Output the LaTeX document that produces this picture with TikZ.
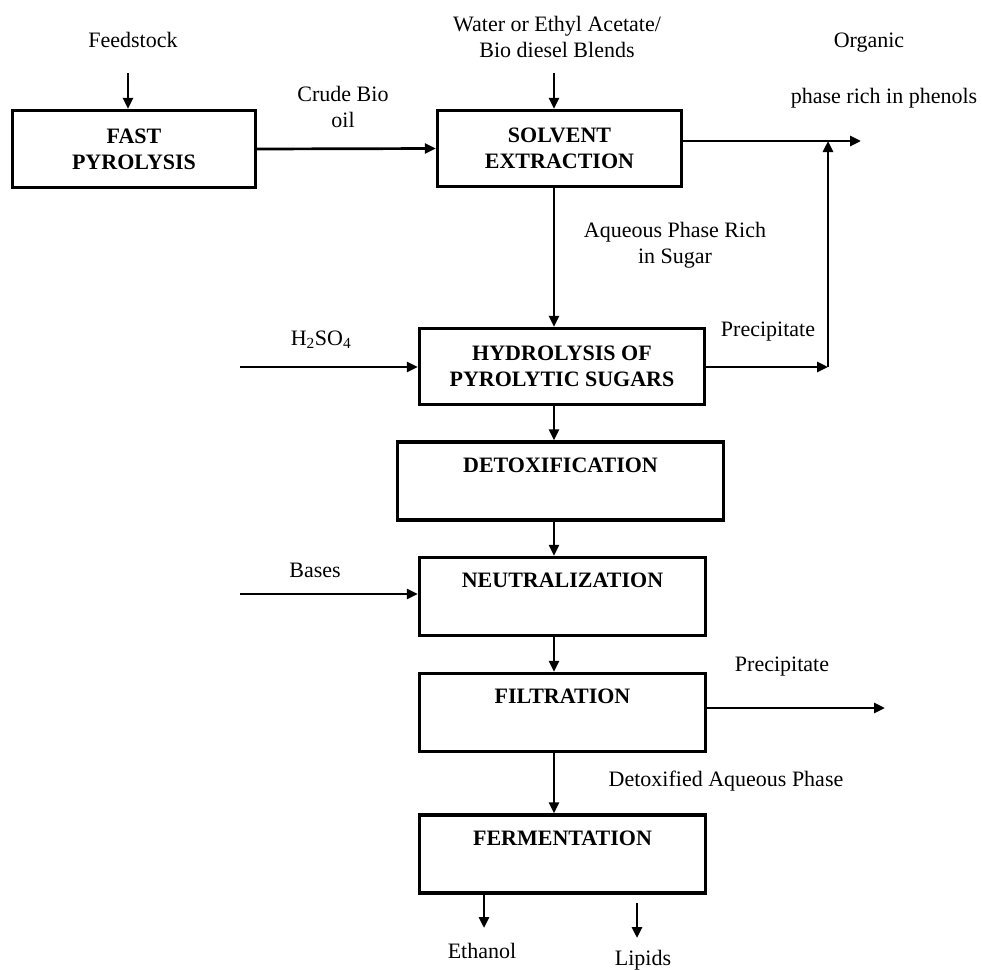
\documentclass[tikz,border=0pt]{standalone}
\usepackage{fontspec}
\setmainfont{Liberation Serif}
\usetikzlibrary{arrows.meta}
\begin{document}
\begin{tikzpicture}[x=1pt, y=-1pt,
    stepbox/.style={draw, line width=3.4pt, align=center, inner sep=0pt, font=\fontsize{22}{26}\selectfont\bfseries},
    topbox/.style={stepbox, text height=30pt, text depth=48pt},
    labelStyle/.style={align=center, inner sep=0pt, font=\fontsize{22}{26}\selectfont},
    flow/.style={line width=2.7pt, -{Triangle[length=11pt, width=10pt]}}]
    \useasboundingbox (0,0) rectangle (982,969);

    \node[stepbox, minimum width=243pt, minimum height=77pt](fast) at (134, 149) {FAST\\PYROLYSIS};
    \node[stepbox, minimum width=244pt, minimum height=76pt](solvent) at (559.5, 148.5) {SOLVENT\\EXTRACTION};
    \node[stepbox, minimum width=285pt, minimum height=76pt](hydro) at (562, 366.5) {HYDROLYSIS OF\\PYROLYTIC SUGARS};
    \node[topbox, minimum width=326pt, minimum height=75pt](detox) at (560.5, 481) {DETOXIFICATION};
    \node[topbox, minimum width=286pt, minimum height=76pt](neutral) at (562.5, 596.5) {NEUTRALIZATION};
    \node[topbox, minimum width=286pt, minimum height=76pt](filt) at (562.5, 712.5) {FILTRATION};
    \node[topbox, minimum width=286pt, minimum height=75pt](ferm) at (562.5, 854) {FERMENTATION};

    \node[labelStyle](feed) at (133, 40) {Feedstock};
    \node[labelStyle](solventIn) at (557, 37) {Water or Ethyl Acetate/\\Bio diesel Blends};
    \node[labelStyle](crude) at (343, 107) {Crude Bio\\oil};
    \node[labelStyle](organic) at (869, 43) {Organic};
    \node[labelStyle](phenols) at (884, 98) {phase rich in phenols};
    \node[labelStyle](aqueous) at (675, 245) {Aqueous Phase Rich\\in Sugar};
    \node[labelStyle](precip1) at (768, 332) {Precipitate};
    \node[labelStyle](acid) at (321, 340) {H\textsubscript{2}SO\textsubscript{4}};
    \node[labelStyle](bases) at (315, 570) {Bases};
    \node[labelStyle](precip2) at (782, 667) {Precipitate};
    \node[labelStyle](detoxified) at (726, 781) {Detoxified Aqueous Phase};
    \node[labelStyle](ethanol) at (482, 951) {Ethanol};
    \node[labelStyle](lipids) at (643, 960) {Lipids};

    \coordinate (axis) at (554, 0);
    \coordinate (feedin) at (128, 73);
    \coordinate (solvin) at (554, 73);
    \coordinate (orgout) at (861, 141);
    \coordinate (riser) at (828, 367);
    \coordinate (acidin) at (240, 367);
    \coordinate (basein) at (240, 594);
    \coordinate (precout) at (885, 708);
    \coordinate (ethout) at (484, 928);
    \coordinate (lipin) at (637, 903);
    \coordinate (lipout) at (637, 938);

    \draw[flow] (feedin) -- (feedin |- fast.north);
    \draw[flow] (solvin) -- (solvin |- solvent.north);
    \draw[flow] (fast.east) -- (solvent.west);
    \draw[flow] (solvent.east |- orgout) -- (orgout);
    \draw[flow] (solvent.south -| axis) -- (hydro.north -| axis);
    \draw[flow] (hydro.east |- riser) -- (riser);
    \draw[flow] (riser) -- (riser |- orgout);
    \draw[flow] (acidin) -- (acidin -| hydro.west);
    \draw[flow] (hydro.south -| axis) -- (detox.north -| axis);
    \draw[flow] (detox.south -| axis) -- (neutral.north -| axis);
    \draw[flow] (basein) -- (basein -| neutral.west);
    \draw[flow] (neutral.south -| axis) -- (filt.north -| axis);
    \draw[flow] (filt.east |- precout) -- (precout);
    \draw[flow] (filt.south -| axis) -- (ferm.north -| axis);
    \draw[flow] (ferm.south -| ethout) -- (ethout);
    \draw[flow] (lipin) -- (lipout);
\end{tikzpicture}
\end{document}
